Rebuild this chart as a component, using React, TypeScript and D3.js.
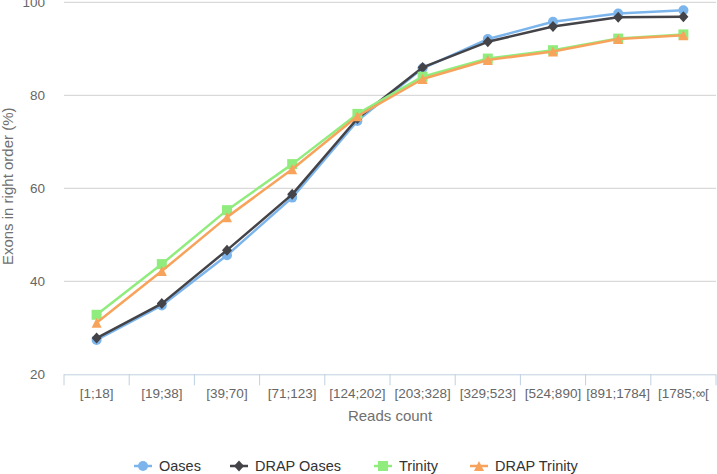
import React from "react";
import * as d3 from "d3";

const categories = ["[1;18]", "[19;38]", "[39;70]", "[71;123]", "[124;202]", "[203;328]", "[329;523]", "[524;890]", "[891;1784]", "[1785;∞["];
const oases = [27.4, 34.8, 45.6, 58.0, 74.5, 85.8, 92.1, 95.8, 97.6, 98.3];
const drapOases = [27.8, 35.2, 46.7, 58.7, 75.0, 86.0, 91.5, 94.8, 96.8, 96.9];
const trinity = [32.8, 43.7, 55.3, 65.2, 76.0, 84.0, 87.9, 89.7, 92.2, 93.1];
const drapTrinity = [31.1, 42.2, 53.8, 64.1, 75.5, 83.5, 87.6, 89.4, 92.1, 92.9];
const yTicks = [20, 40, 60, 80, 100];

const seriesNames = ["Oases", "DRAP Oases", "Trinity", "DRAP Trinity"];
const seriesColors = ["#7cb5ec", "#434348", "#90ed7d", "#f7a35c"];
const seriesSymbols = ["circle", "diamond", "square", "triangle"];

const W = 717, H = 474;
const left = 64, right = 716, top = 2.3, bottom = 374.3;
const font = "'Liberation Sans', Arial, Helvetica, sans-serif";

function marker(sym: string, x: number, y: number, color: string, key: string) {
  const r = 5;
  if (sym === "circle") return <circle key={key} cx={x} cy={y} r={r} fill={color} />;
  if (sym === "square") return <rect key={key} x={x - r} y={y - r} width={2 * r} height={2 * r} fill={color} />;
  if (sym === "diamond") return <path key={key} d={`M${x},${y - r - 0.5}L${x + r},${y}L${x},${y + r + 0.5}L${x - r},${y}Z`} fill={color} />;
  return <path key={key} d={`M${x},${y - r}L${x + r},${y + r}L${x - r},${y + r}Z`} fill={color} />;
}

export default function App() {
  const data = [oases, drapOases, trinity, drapTrinity];
  const x = d3.scaleBand<string>().domain(categories).range([left, right]);
  const y = d3.scaleLinear().domain([20, 100]).range([bottom, top]);
  const cx = (c: string) => (x(c) as number) + x.bandwidth() / 2;
  const line = d3.line<number>().x((_, i) => cx(categories[i])).y((d) => y(d));
  const ticksX = categories.map((c) => x(c) as number).concat([right]);
  const legendX = [134, 230, 374, 470];

  return (
    <svg width={W} height={H} style={{ position: "absolute", left: 0, top: 0, fontFamily: font }}>
      <rect x={0} y={0} width={W} height={H} fill="#fff" />
      {yTicks.map((t) => (
        <g key={t}>
          {t !== 20 && <line x1={left} x2={right} y1={y(t)} y2={y(t)} stroke="#d0d0d0" strokeWidth={1} />}
          <text x={45} y={y(t) + 5} textAnchor="end" fontSize={13.5} fill="#666">{t}</text>
        </g>
      ))}
      <line x1={left} x2={right} y1={bottom + 0.5} y2={bottom + 0.5} stroke="#c0d0e0" strokeWidth={1} />
      {ticksX.map((t, i) => (
        <line key={i} x1={t} x2={t} y1={bottom} y2={bottom + 11} stroke="#c0d0e0" strokeWidth={1} />
      ))}
      {categories.map((c) => (
        <text key={c} x={cx(c)} y={398} textAnchor="middle" fontSize={13.5} fill="#666">{c}</text>
      ))}
      <text x={(left + right) / 2} y={421} textAnchor="middle" fontSize={15} fill="#707070">Reads count</text>
      <text transform={`translate(13,${(top + bottom) / 2 - 2}) rotate(-90)`} textAnchor="middle" fontSize={15} fill="#707070">Exons in right order (%)</text>
      {data.map((s, i) => (
        <g key={i}>
          <path d={line(s) || ""} fill="none" stroke={seriesColors[i]} strokeWidth={2.5} strokeLinejoin="round" />
          {s.map((v, j) => marker(seriesSymbols[i], cx(categories[j]), y(v), seriesColors[i], `${i}-${j}`))}
        </g>
      ))}
      {seriesNames.map((n, i) => (
        <g key={n}>
          <line x1={legendX[i]} x2={legendX[i] + 18} y1={466} y2={466} stroke={seriesColors[i]} strokeWidth={2.5} />
          {marker(seriesSymbols[i], legendX[i] + 9, 466, seriesColors[i], "l" + i)}
          <text x={legendX[i] + 25} y={471} fontSize={14.5} fill="#333">{n}</text>
        </g>
      ))}
    </svg>
  );
}
